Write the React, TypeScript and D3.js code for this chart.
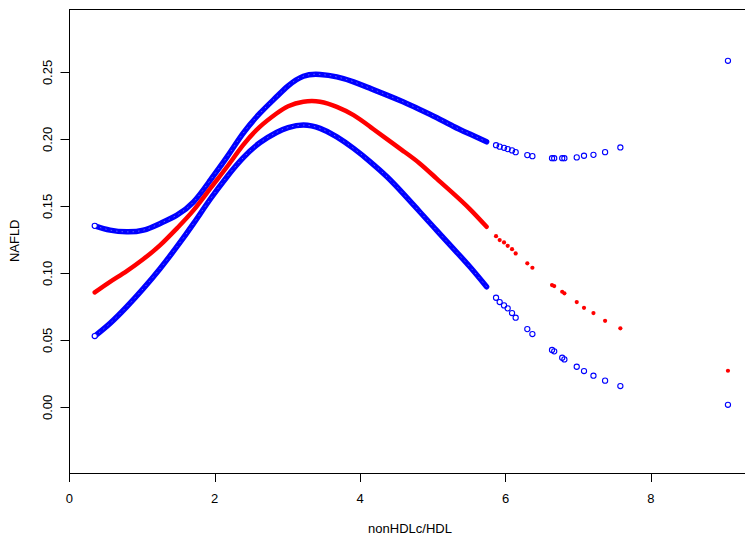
import { useEffect, useRef } from "react";
import * as d3 from "d3";

// dense part of the fitted curve (points overlap into a band)
const denseX = [0.35, 0.56, 0.79, 1.02, 1.25, 1.48, 1.71, 1.94, 2.17, 2.39, 2.62, 2.85, 3.01, 3.22, 3.45, 3.68, 3.91, 4.14, 4.37, 4.59, 4.82, 5.05, 5.28, 5.51, 5.74];
const denseFit = [0.0858, 0.0937, 0.1017, 0.1107, 0.1211, 0.1336, 0.1472, 0.1634, 0.1796, 0.1957, 0.2094, 0.2194, 0.2248, 0.2281, 0.2281, 0.2243, 0.2181, 0.2094, 0.2002, 0.1915, 0.1821, 0.1709, 0.1597, 0.148, 0.1348];
const denseUpper = [0.1355, 0.1323, 0.131, 0.1323, 0.1373, 0.1435, 0.1534, 0.1696, 0.187, 0.2045, 0.2194, 0.2318, 0.24, 0.2472, 0.2485, 0.2467, 0.243, 0.2381, 0.2331, 0.2281, 0.2224, 0.2164, 0.2099, 0.204, 0.1982];
const denseLower = [0.0532, 0.0627, 0.0751, 0.0888, 0.1037, 0.1199, 0.1373, 0.1555, 0.1722, 0.1862, 0.1975, 0.2052, 0.2088, 0.2107, 0.2082, 0.2019, 0.1933, 0.1833, 0.1721, 0.1597, 0.146, 0.1323, 0.1187, 0.1049, 0.09];

// sparse tail, drawn as single points
const sparseX = [5.87, 5.92, 5.98, 6.03, 6.09, 6.14, 6.3, 6.37, 6.64, 6.67, 6.78, 6.81, 6.98, 7.08, 7.21, 7.37, 7.58, 9.06];
const sparseFit = [0.1278, 0.1249, 0.1231, 0.1206, 0.1181, 0.1149, 0.1075, 0.1042, 0.0913, 0.0905, 0.0863, 0.0851, 0.0786, 0.0743, 0.0704, 0.0646, 0.059, 0.0273];
const sparseUpper = [0.1957, 0.1946, 0.1937, 0.1928, 0.1918, 0.1905, 0.1883, 0.1875, 0.186, 0.186, 0.186, 0.186, 0.1866, 0.1878, 0.1885, 0.1905, 0.194, 0.2587];
const sparseLower = [0.0818, 0.0786, 0.0761, 0.0739, 0.0704, 0.0669, 0.0584, 0.0547, 0.0428, 0.0418, 0.037, 0.0358, 0.0303, 0.0271, 0.0236, 0.0199, 0.0159, 0.0019];

const xTicks = [0, 2, 4, 6, 8];
const yTicks = [0, 0.05, 0.1, 0.15, 0.2, 0.25];

function App() {
  const svgRef = useRef<SVGSVGElement>(null);

  useEffect(() => {
    const width = 745;
    const height = 540;
    const box = { left: 69.5, top: 9.5, bottom: 473.5, right: 760 };
    const font = "'Liberation Sans', Arial, sans-serif";

    const svg = d3.select(svgRef.current);
    svg.selectAll("*").remove();
    svg.attr("width", width).attr("height", height);

    const x = d3.scaleLinear().domain([0, 9.3]).range([69.3, 745.4]);
    const y = d3.scaleLinear().domain([-0.0494, 0.297]).range([box.bottom, box.top]);

    // plot box
    svg
      .append("rect")
      .attr("x", box.left)
      .attr("y", box.top)
      .attr("width", box.right - box.left)
      .attr("height", box.bottom - box.top)
      .attr("fill", "none")
      .attr("stroke", "#000")
      .attr("stroke-width", 1);

    // x axis ticks + labels
    const xAxis = svg.append("g");
    xAxis
      .selectAll("line")
      .data(xTicks)
      .enter()
      .append("line")
      .attr("x1", d => Math.round(x(d)) + 0.5)
      .attr("x2", d => Math.round(x(d)) + 0.5)
      .attr("y1", box.bottom)
      .attr("y2", box.bottom + 8.5)
      .attr("stroke", "#000");
    xAxis
      .selectAll("text")
      .data(xTicks)
      .enter()
      .append("text")
      .attr("x", d => x(d))
      .attr("y", 502.5)
      .attr("text-anchor", "middle")
      .attr("font-family", font)
      .attr("font-size", "13px")
      .attr("fill", "#000")
      .text(d => d);

    // y axis ticks + rotated labels
    const yAxis = svg.append("g");
    yAxis
      .selectAll("line")
      .data(yTicks)
      .enter()
      .append("line")
      .attr("x1", box.left - 9)
      .attr("x2", box.left)
      .attr("y1", d => Math.round(y(d)) + 0.5)
      .attr("y2", d => Math.round(y(d)) + 0.5)
      .attr("stroke", "#000");
    yAxis
      .selectAll("text")
      .data(yTicks)
      .enter()
      .append("text")
      .attr("transform", d => `translate(51.7, ${y(d)}) rotate(-90)`)
      .attr("text-anchor", "middle")
      .attr("font-family", font)
      .attr("font-size", "13px")
      .attr("fill", "#000")
      .text(d => d.toFixed(2));

    // axis titles
    svg
      .append("text")
      .attr("x", 410)
      .attr("y", 533)
      .attr("text-anchor", "middle")
      .attr("font-family", font)
      .attr("font-size", "13px")
      .attr("fill", "#000")
      .text("nonHDLc/HDL");

    svg
      .append("text")
      .attr("transform", "translate(19.3, 240.8) rotate(-90)")
      .attr("text-anchor", "middle")
      .attr("font-family", font)
      .attr("font-size", "13px")
      .attr("fill", "#000")
      .text("NAFLD");

    // dense bands
    const line = d3
      .line<number>()
      .x((d, i) => x(denseX[i]))
      .y(d => y(d))
      .curve(d3.curveNatural);

    const bands: [number[], string, number][] = [
      [denseUpper, "#0000ff", 5.5],
      [denseLower, "#0000ff", 5.5],
      [denseFit, "#ff0000", 4.5],
    ];
    bands.forEach(([vals, color, w]) => {
      svg
        .append("path")
        .datum(vals)
        .attr("d", line)
        .attr("fill", "none")
        .attr("stroke", color)
        .attr("stroke-width", w)
        .attr("stroke-linecap", "round");
    });

    // faint ring texture inside the blue bands
    [denseUpper, denseLower].forEach(vals => {
      svg
        .append("path")
        .datum(vals)
        .attr("d", line)
        .attr("fill", "none")
        .attr("stroke", "#ffffff")
        .attr("stroke-opacity", 0.35)
        .attr("stroke-width", 1)
        .attr("stroke-dasharray", "1.5 4");
    });

    // ring at the start of each blue band
    [denseUpper, denseLower].forEach(vals => {
      svg
        .append("circle")
        .attr("cx", x(denseX[0]))
        .attr("cy", y(vals[0]))
        .attr("r", 2.6)
        .attr("fill", "#fff")
        .attr("stroke", "#0000ff")
        .attr("stroke-width", 1.1);
    });

    // sparse confidence points
    [sparseUpper, sparseLower].forEach(vals => {
      svg
        .append("g")
        .selectAll("circle")
        .data(vals)
        .enter()
        .append("circle")
        .attr("cx", (d, i) => x(sparseX[i]))
        .attr("cy", d => y(d))
        .attr("r", 2.6)
        .attr("fill", "none")
        .attr("stroke", "#0000ff")
        .attr("stroke-width", 1.1);
    });

    svg
      .append("g")
      .selectAll("circle")
      .data(sparseFit)
      .enter()
      .append("circle")
      .attr("cx", (d, i) => x(sparseX[i]))
      .attr("cy", d => y(d))
      .attr("r", 2.1)
      .attr("fill", "#ff0000");
  }, []);

  return (
    <svg
      ref={svgRef}
      style={{ position: "absolute", left: 0, top: 0, display: "block", background: "#fff" }}
    ></svg>
  );
}

export default App;
